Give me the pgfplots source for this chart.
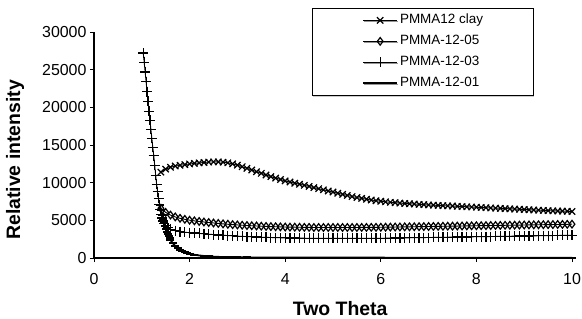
\documentclass[border=0pt]{standalone}
\usepackage{fontspec}
\setmainfont{Liberation Sans}
\usepackage{pgfplots}
\pgfplotsset{compat=1.18}
\usetikzlibrary{shadows}
\begin{document}
\begin{tikzpicture}
\begin{axis}[
  width=478bp, height=226bp, scale only axis,
  xmin=0, xmax=10, ymin=0, ymax=30000,
  axis x line=bottom, axis y line=left,
  x axis line style={-, line width=1.8bp},
  y axis line style={-, line width=1.1bp},
  xtick={0,2,...,10}, ytick={0,5000,...,30000},
  tick align=outside, major tick length=4bp,
  tick style={black, line width=0.8bp},
  scaled ticks=false,
  /pgf/number format/1000 sep={},
  /pgf/number format/assume math mode=true,
  ticklabel style={font=\fontsize{16}{18}\selectfont},
  xticklabel style={yshift=-8bp},
  xlabel={Two Theta}, ylabel={Relative intensity},
  xlabel style={font=\bfseries\fontsize{19.5}{22}\selectfont, at={(axis description cs:0.515,-0.2257)}, anchor=center},
  ylabel style={font=\bfseries\fontsize{19.5}{22}\selectfont, at={(axis description cs:-0.165,0.434)}, anchor=center},
  legend style={at={(axis description cs:0.456,1.106)}, anchor=north west,
    font=\fontsize{13.5}{15}\selectfont, draw=black, line width=0.6bp,
    inner xsep=50bp, inner ysep=5.5bp, row sep=8bp, column sep=2bp,
    nodes={inner sep=0pt, text height=10bp, text depth=3bp},
    drop shadow={shadow xshift=1.2bp, shadow yshift=-1.2bp, opacity=0.4}},
  legend cell align=left,
  legend image code/.code={\draw[mark repeat=2,mark phase=2] plot coordinates {(0bp,0bp) (17bp,0bp) (34bp,0bp)};},
  every axis plot/.append style={black, line width=0.9bp},
]
\coordinate (O) at (rel axis cs:0,0);
% PMMA12 clay
\addplot[mark=x, mark size=4.5bp, mark options={line width=1.2bp}] table {
1.4 11400
1.5 11800
1.6 12050
1.7 12200
1.8 12300
1.9 12400
2.0 12480
2.1 12550
2.2 12620
2.3 12680
2.4 12730
2.5 12760
2.6 12760
2.7 12720
2.8 12640
2.9 12500
3.0 12320
3.1 12120
3.2 11900
3.3 11680
3.4 11460
3.5 11240
3.6 11020
3.7 10810
3.8 10610
3.9 10420
4.0 10240
4.1 10080
4.2 9930
4.3 9790
4.4 9650
4.5 9500
4.6 9350
4.7 9200
4.8 9050
4.9 8900
5.0 8750
5.1 8600
5.2 8450
5.3 8300
5.4 8160
5.5 8030
5.6 7910
5.7 7800
5.8 7700
5.9 7610
6.0 7530
6.1 7460
6.2 7400
6.3 7340
6.4 7290
6.5 7240
6.6 7200
6.7 7160
6.8 7120
6.9 7080
7.0 7040
7.1 7010
7.2 6980
7.3 6950
7.4 6920
7.5 6890
7.6 6860
7.7 6830
7.8 6800
7.9 6770
8.0 6740
8.1 6710
8.2 6680
8.3 6650
8.4 6620
8.5 6590
8.6 6560
8.7 6530
8.8 6500
8.9 6470
9.0 6440
9.1 6410
9.2 6380
9.3 6350
9.4 6320
9.5 6290
9.6 6260
9.7 6240
9.8 6220
9.9 6200
10.0 6180
};
\addlegendentry{PMMA12 clay}
% PMMA-12-05
\addplot[mark=diamond, mark size=3.8bp, mark options={line width=1.2bp}] table {
1.4 6600
1.5 6050
1.6 5700
1.7 5450
1.8 5270
1.9 5130
2.0 5020
2.1 4930
2.2 4850
2.3 4780
2.4 4710
2.5 4650
2.6 4590
2.7 4530
2.8 4480
2.9 4430
3.0 4390
3.1 4350
3.2 4310
3.3 4280
3.4 4250
3.5 4220
3.6 4190
3.7 4170
3.8 4150
3.9 4130
4.0 4110
4.1 4100
4.2 4090
4.3 4080
4.4 4070
4.5 4060
4.6 4050
4.7 4050
4.8 4050
4.9 4050
5.0 4050
5.1 4050
5.2 4050
5.3 4050
5.4 4050
5.5 4050
5.6 4060
5.7 4060
5.8 4070
5.9 4070
6.0 4080
6.1 4090
6.2 4100
6.3 4110
6.4 4120
6.5 4130
6.6 4140
6.7 4150
6.8 4160
6.9 4170
7.0 4180
7.1 4190
7.2 4200
7.3 4210
7.4 4220
7.5 4230
7.6 4240
7.7 4250
7.8 4260
7.9 4270
8.0 4280
8.1 4290
8.2 4300
8.3 4310
8.4 4320
8.5 4330
8.6 4340
8.7 4350
8.8 4360
8.9 4370
9.0 4380
9.1 4390
9.2 4400
9.3 4410
9.4 4420
9.5 4430
9.6 4440
9.7 4450
9.8 4460
9.9 4470
10.0 4490
};
\addlegendentry{PMMA-12-05}
% PMMA-12-03
\addplot[mark=+, mark size=5bp, mark options={line width=1.2bp}] table {
1.03 27200
1.05 26000
1.07 24700
1.09 23400
1.11 22100
1.13 20800
1.15 19500
1.17 18300
1.19 17100
1.21 15900
1.23 14700
1.25 13600
1.27 12300
1.29 11000
1.31 9800
1.33 8800
1.35 7900
1.37 7100
1.39 6400
1.41 5800
1.43 5300
1.45 4900
1.47 4600
1.50 4300
1.55 4000
1.6 3800
1.7 3620
1.8 3500
1.9 3420
2.0 3360
2.1 3310
2.2 3260
2.3 3210
2.4 3160
2.5 3110
2.6 3060
2.7 3020
2.8 2980
2.9 2940
3.0 2900
3.1 2870
3.2 2840
3.3 2810
3.4 2780
3.5 2760
3.6 2740
3.7 2720
3.8 2700
3.9 2680
4.0 2670
4.1 2660
4.2 2650
4.3 2640
4.4 2630
4.5 2620
4.6 2610
4.7 2600
4.8 2600
4.9 2600
5.0 2600
5.1 2600
5.2 2600
5.3 2600
5.4 2600
5.5 2600
5.6 2600
5.7 2610
5.8 2610
5.9 2620
6.0 2620
6.1 2630
6.2 2640
6.3 2650
6.4 2660
6.5 2670
6.6 2680
6.7 2690
6.8 2700
6.9 2710
7.0 2720
7.1 2730
7.2 2740
7.3 2750
7.4 2760
7.5 2770
7.6 2780
7.7 2790
7.8 2800
7.9 2810
8.0 2820
8.1 2830
8.2 2840
8.3 2850
8.4 2860
8.5 2870
8.6 2880
8.7 2890
8.8 2900
8.9 2910
9.0 2920
9.1 2930
9.2 2940
9.3 2950
9.4 2960
9.5 2970
9.6 2980
9.7 2990
9.8 3000
9.9 3010
10.0 3030
};
\addlegendentry{PMMA-12-03}
% PMMA-12-01
\addplot[mark=-, mark size=4bp, line width=1.8bp, mark options={line width=1.8bp}] table {
1.38 7000
1.40 6300
1.42 5700
1.44 5150
1.46 4650
1.48 4200
1.50 3800
1.52 3450
1.54 3150
1.56 2870
1.58 2620
1.60 2400
1.65 1950
1.70 1600
1.75 1320
1.80 1100
1.85 920
1.90 780
1.95 660
2.0 570
2.1 430
2.2 340
2.3 270
2.4 220
2.5 180
2.6 150
2.7 130
2.8 115
2.9 100
3.0 90
3.2 82
3.4 74
3.6 67
3.8 62
4.0 58
4.2 56
4.4 55
4.6 54
4.8 53
5.0 52
5.2 51
5.4 50
5.6 49
5.8 48
6.0 47
6.2 46
6.4 45
6.6 44
6.8 43
7.0 42
7.2 41
7.4 40
7.6 39
7.8 38
8.0 37
8.2 36
8.4 35
8.6 34
8.8 33
9.0 32
9.2 32
9.4 31
9.6 31
9.8 30
10.0 30
};
\addlegendentry{PMMA-12-01}
\end{axis}
\pgfresetboundingbox
\useasboundingbox ([shift={(-94bp,-61bp)}]O) rectangle ([shift={(488bp,258bp)}]O);
\end{tikzpicture}
\end{document}
